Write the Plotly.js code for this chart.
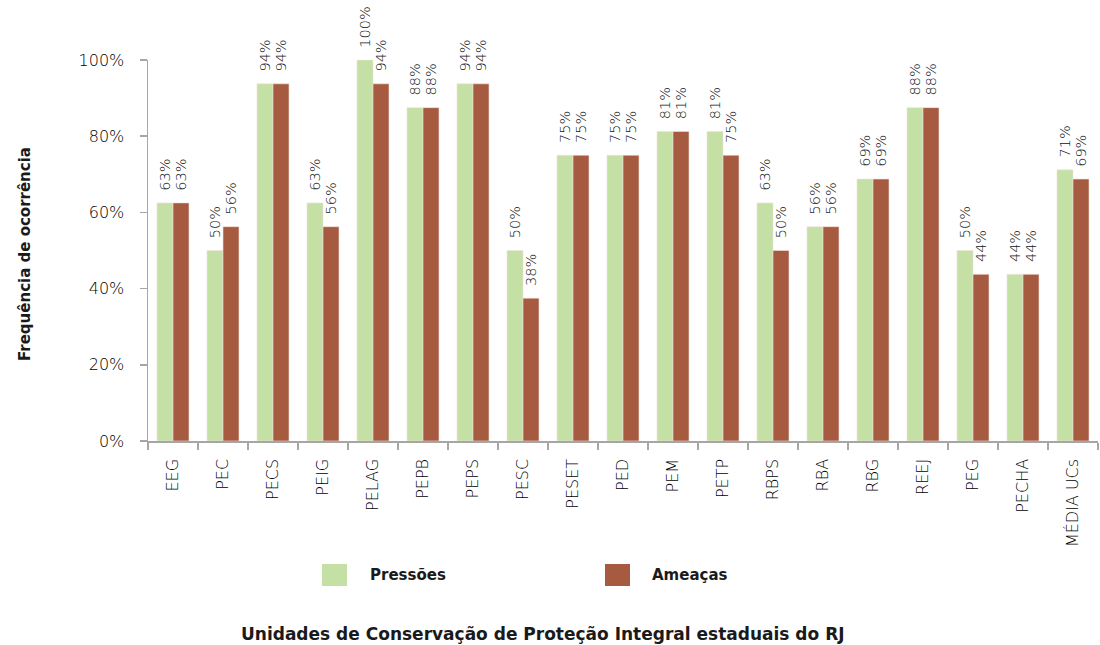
<!DOCTYPE html>
<html>
<head>
<meta charset="utf-8">
<script src="https://cdn.plot.ly/plotly-3.0.1.min.js"></script>
<style>html,body{margin:0;padding:0;background:#fff;}#chart{width:1100px;height:645px;}</style>
</head>
<body>
<div id="chart"></div>
<script>
const categories = ["EEG","PEC","PECS","PEIG","PELAG","PEPB","PEPS","PESC","PESET","PED","PEM","PETP","RBPS","RBA","RBG","REEJ","PEG","PECHA","MÉDIA UCs"];
const pressoes = [62.5,50,93.75,62.5,100,87.5,93.75,50,75,75,81.25,81.25,62.5,56.25,68.75,87.5,50,43.75,71.2];
const ameacas  = [62.5,56.25,93.75,56.25,93.75,87.5,93.75,37.5,75,75,81.25,75,50,56.25,68.75,87.5,43.75,43.75,68.75];
const seriesNames = ["Pressões","Ameaças"];
const yTicks = [0,20,40,60,80,100];

const green = "#c4e0a4";
const brown = "#a65a40";
const thinFont = "'DejaVu Sans', sans-serif";
const boldFont = "'DejaVu Sans', sans-serif";
const labelFont = {family:thinFont, size:14.5, color:"#111111", weight:200};

function barTrace(name, vals, color){
  return {
    type:"bar", name:name, x:categories, y:vals,
    marker:{color:color, line:{color:"#f3e3dc", width:0.6}},
    texttemplate:"\u00a0\u00a0%{y:.0f}%", textposition:"outside", textangle:-90,
    constraintext:"none",
    textfont:labelFont, cliponaxis:false, showlegend:false
  };
}

const data = [barTrace(seriesNames[0], pressoes, green), barTrace(seriesNames[1], ameacas, brown)];

function px2x(p){return (p-148)/950;}
function py2y(p){return (441-p)/381;}

const layout = {
  width:1100, height:645,
  margin:{l:148, r:2, t:60, b:204},
  paper_bgcolor:"#fff", plot_bgcolor:"#fff",
  barmode:"group", bargap:0.36, bargroupgap:0,
  font:{family:thinFont},
  xaxis:{
    type:"category", showgrid:false, zeroline:false,
    showline:true, linecolor:"#a6a6a6", linewidth:1.5,
    ticks:"outside", tickson:"boundaries", ticklen:7, tickcolor:"#a6a6a6", tickwidth:1.5,
    ticklabelstandoff:10,
    tickangle:-90, tickfont:{family:thinFont, size:16, color:"#000000", weight:200},
    automargin:false
  },
  yaxis:{
    range:[0,100], tickvals:yTicks, ticktext:yTicks.map(v=>v+"%"),
    showgrid:false, zeroline:false,
    showline:true, linecolor:"#a6a6a6", linewidth:1.5,
    ticks:"outside", ticklen:7, tickcolor:"#a6a6a6", tickwidth:1.5,
    ticklabelstandoff:12,
    tickfont:{family:thinFont, size:16, color:"#000000", weight:200},
    automargin:false
  },
  shapes:[
    {type:"rect", xref:"paper", yref:"paper", x0:px2x(322), x1:px2x(347), y0:py2y(586), y1:py2y(564), fillcolor:green, line:{width:0}},
    {type:"rect", xref:"paper", yref:"paper", x0:px2x(605), x1:px2x(630), y0:py2y(586), y1:py2y(564), fillcolor:brown, line:{width:0}}
  ],
  annotations:[
    {xref:"paper", yref:"paper", x:px2x(368), y:py2y(575), xanchor:"left", yanchor:"middle", showarrow:false, text:"<b>"+seriesNames[0]+"</b>", font:{family:boldFont, size:15, color:"#1a1a1a"}},
    {xref:"paper", yref:"paper", x:px2x(650), y:py2y(575), xanchor:"left", yanchor:"middle", showarrow:false, text:"<b>"+seriesNames[1]+"</b>", font:{family:boldFont, size:15, color:"#1a1a1a"}},
    {xref:"paper", yref:"paper", x:px2x(543), y:py2y(634), xanchor:"center", yanchor:"middle", showarrow:false, text:"<b>Unidades de Conservação de Proteção Integral estaduais do RJ</b>", font:{family:boldFont, size:17, color:"#1a1a1a"}},
    {xref:"paper", yref:"paper", x:px2x(25), y:py2y(254), xanchor:"center", yanchor:"middle", textangle:-90, showarrow:false, text:"<b>Frequência de ocorrência</b>", font:{family:boldFont, size:15, color:"#1a1a1a"}}
  ]
};

Plotly.newPlot("chart", data, layout, {displayModeBar:false, staticPlot:true});
</script>
</body>
</html>
